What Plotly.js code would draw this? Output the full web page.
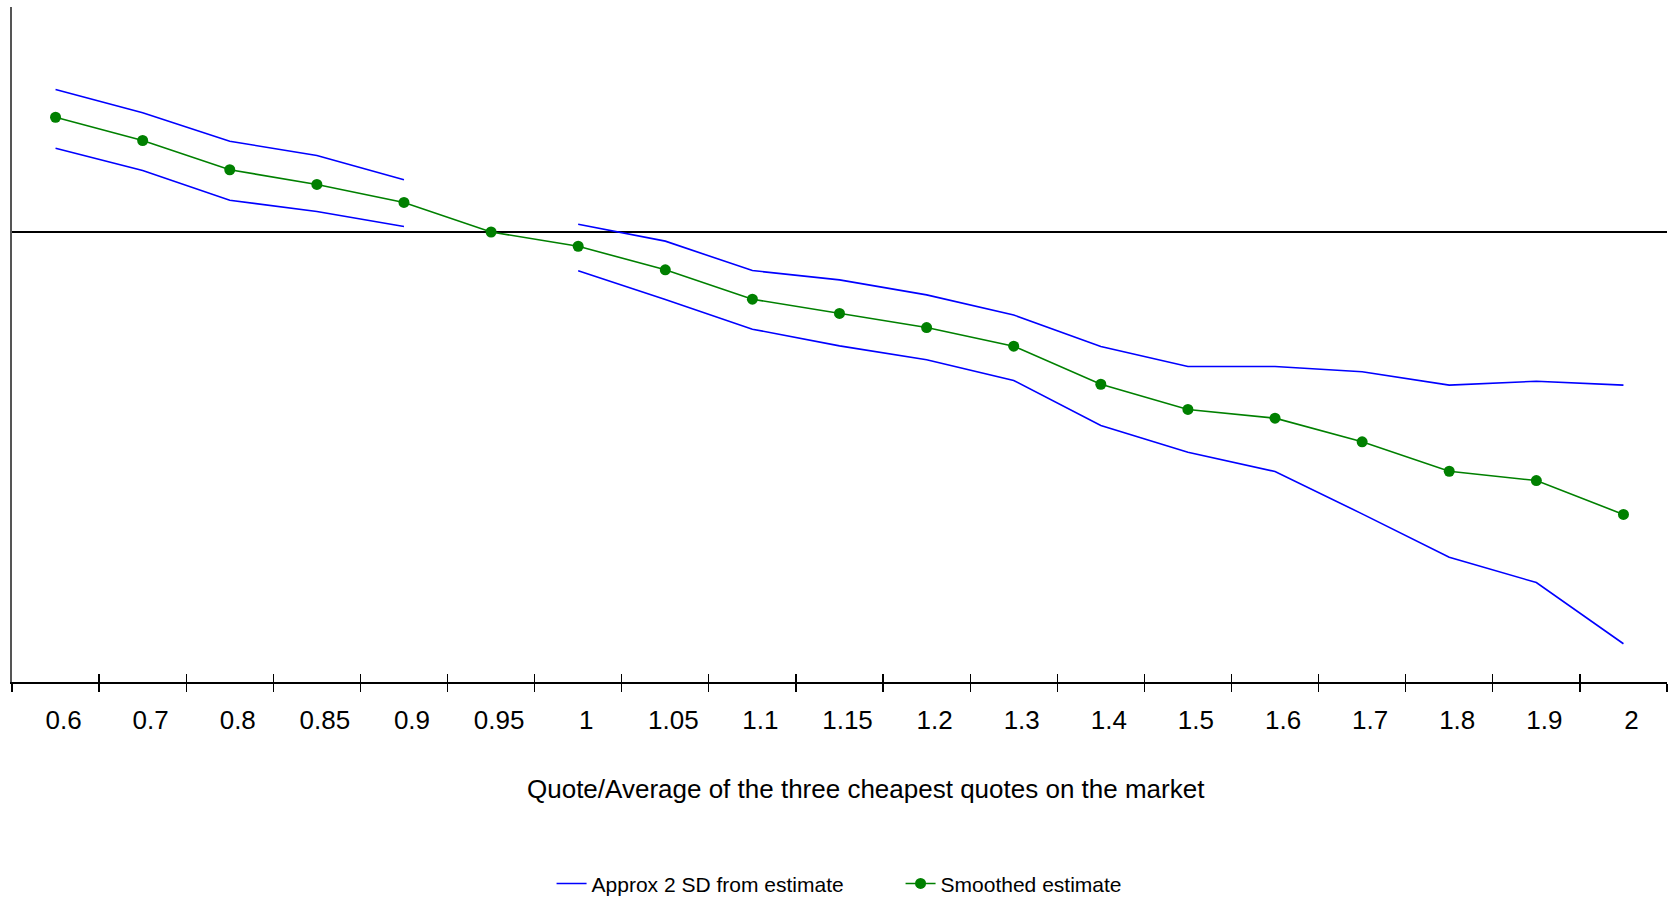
<!DOCTYPE html>
<html>
<head>
<meta charset="utf-8">
<script src="https://cdn.plot.ly/plotly-3.0.1.min.js"></script>
<style>
  html, body { margin: 0; padding: 0; background: #ffffff; }
  #chart { width: 1677px; height: 900px; }
</style>
</head>
<body>
<div id="chart"></div>
<script>
// Category labels (ratio of quote to the average of the three cheapest quotes)
const categories = ['0.6','0.7','0.8','0.85','0.9','0.95','1','1.05','1.1','1.15','1.2','1.3','1.4','1.5','1.6','1.7','1.8','1.9','2'];

// Smoothed estimate (green line with markers)
const smoothed = [0.765, 0.61, 0.415, 0.317, 0.197, 0.0, -0.095, -0.252, -0.448, -0.543, -0.637, -0.761, -1.015, -1.183, -1.241, -1.399, -1.595, -1.657, -1.883];

// Approx 2 SD band around the estimate (gap at the 0.95 reference point)
const upperBand = [0.95, 0.795, 0.605, 0.51, 0.348, null, 0.052, -0.061, -0.257, -0.319, -0.419, -0.553, -0.763, -0.897, -0.897, -0.932, -1.021, -0.995, -1.021];
const lowerBand = [0.559, 0.41, 0.212, 0.137, 0.037, null, -0.259, -0.45, -0.648, -0.759, -0.852, -0.99, -1.29, -1.468, -1.597, -1.879, -2.168, -2.337, -2.745];

const seriesNames = { band: 'Approx 2 SD from estimate', smooth: 'Smoothed estimate' };
const xTitle = 'Quote/Average of the three cheapest quotes on the market';

const FONT = 'Liberation Sans, Arial, sans-serif';

const traces = [
  {
    x: categories, y: upperBand, type: 'scatter', mode: 'lines',
    name: seriesNames.band, legendgroup: 'band', showlegend: true,
    line: { color: '#0000ff', width: 1.6 }, connectgaps: false, hoverinfo: 'skip'
  },
  {
    x: categories, y: lowerBand, type: 'scatter', mode: 'lines',
    name: seriesNames.band, legendgroup: 'band', showlegend: false,
    line: { color: '#0000ff', width: 1.6 }, connectgaps: false, hoverinfo: 'skip'
  },
  {
    x: categories, y: smoothed, type: 'scatter', mode: 'lines+markers',
    name: seriesNames.smooth,
    line: { color: '#008000', width: 1.6 },
    marker: { color: '#008000', size: 11 }, hoverinfo: 'skip'
  }
];

const layout = {
  width: 1677, height: 900,
  paper_bgcolor: '#ffffff', plot_bgcolor: '#ffffff',
  margin: { l: 11.5, r: 10.2, t: 7, b: 218.3, pad: 0, autoexpand: false },
  font: { family: FONT, color: '#000000' },
  showlegend: true,
  xaxis: {
    type: 'category',
    categoryorder: 'array', categoryarray: categories,
    range: [-0.5, 18.5],
    showline: true, linecolor: '#000000', linewidth: 1.5,
    showgrid: false, zeroline: false,
    ticks: 'outside', ticklen: 8, tickwidth: 1.3, tickcolor: '#000000',
    tickson: 'boundaries',
    ticklabelshift: 8, ticklabelstandoff: 14,
    tickfont: { family: FONT, size: 26, color: '#000000' },
    automargin: false,
    fixedrange: true
  },
  xaxis2: {
    type: 'category',
    categoryorder: 'array', categoryarray: categories,
    overlaying: 'x', anchor: 'y', matches: 'x',
    range: [-0.5, 18.5],
    showline: false, showgrid: false, zeroline: false,
    ticks: 'inside', ticklen: 8, tickwidth: 1.3, tickcolor: '#000000',
    tickson: 'boundaries', showticklabels: false,
    fixedrange: true
  },
  yaxis: {
    range: [-3.0, 1.5],
    showline: true, linecolor: '#555555', linewidth: 2,
    showgrid: false, showticklabels: false, ticks: '',
    zeroline: true, zerolinecolor: '#000000', zerolinewidth: 1.4,
    automargin: false,
    fixedrange: true
  },
  legend: {
    orientation: 'h',
    xref: 'container', yref: 'container',
    x: 0.3289, xanchor: 'left',
    y: 0.018, yanchor: 'middle',
    font: { family: FONT, size: 21, color: '#000000' },
    entrywidth: 304, entrywidthmode: 'pixels',
    bgcolor: 'rgba(0,0,0,0)', borderwidth: 0
  },
  annotations: [
    {
      text: xTitle,
      xref: 'paper', yref: 'paper',
      x: 0.516, y: -0.159, xanchor: 'center', yanchor: 'middle',
      showarrow: false,
      font: { family: FONT, size: 26, color: '#000000' }
    }
  ]
};

// Invisible trace on xaxis2 so the overlay tick axis (inside half of the crossing ticks) is drawn
traces.push({
  x: categories, y: smoothed, xaxis: 'x2', yaxis: 'y', type: 'scatter', mode: 'none',
  showlegend: false, hoverinfo: 'skip', opacity: 0
});

Plotly.newPlot('chart', traces, layout, { displayModeBar: false, staticPlot: true });
</script>
</body>
</html>
